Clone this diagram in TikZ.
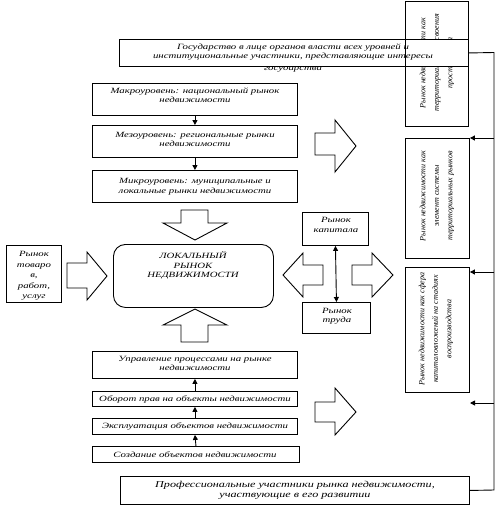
\documentclass[tikz,border=0pt]{standalone}
\usepackage{fontspec}
\setmainfont{Liberation Serif}
\newfontfamily\wf[FakeStretch=1.35]{Liberation Serif}
\usetikzlibrary{arrows.meta}
\begin{document}
\begin{tikzpicture}[x=1pt,y=-1pt,
  bx/.style={draw, line width=0.9pt, fill=white, inner sep=0pt, anchor=north west},
  tx/.style={font=\wf\itshape\fontsize{8}{9.5}\selectfont, align=center, inner sep=0pt},
  bigtx/.style={font=\wf\itshape\fontsize{9}{10}\selectfont, align=center, inner sep=0pt},
  vt/.style={font=\itshape\fontsize{8}{13.5}\selectfont, align=center, inner sep=0pt, rotate=90},
  ln/.style={line width=0.9pt},
  con/.style={line width=0.9pt, -{Triangle[length=5pt,width=5pt]}},
  dcon/.style={line width=0.9pt, {Triangle[length=5pt,width=5pt]}-{Triangle[length=5pt,width=5pt]}},
  hol/.style={draw, line width=0.9pt, fill=white, line join=miter}]
\useasboundingbox (0,0) rectangle (496,507);

% right column boxes
\node[bx, minimum width=63pt, minimum height=125pt] (v1) at (405,0.5) {};
\node[vt] at (437,63) {Рынок недвижимости как\\территориального освоения\\пространства};
\node[bx, minimum width=64pt, minimum height=120pt] (v2) at (405,138) {};
\node[vt] at (437,196) {Рынок недвижимости как\\элемент системы\\территориальных рынков};
\node[bx, minimum width=64pt, minimum height=125pt] (v3) at (405,267) {};
\node[vt] at (436,329) {Рынок недвижимости как сфера\\капиталовложений на стадиях\\воспроизводства};

% top box
\node[tx] at (293,69) {государства};
\node[bx, fill=none, minimum width=349pt, minimum height=27pt] (top) at (119,39) {};
\fill[white] (120,39.5) rectangle (404,65.5);
\fill[white] (405.5,39.5) rectangle (467.5,65.5);
\node[tx] at (293,52) {Государство в лице органов власти всех уровней и\\институциональные участники, представляющие интересы};

% bottom box
\node[bx, minimum width=349pt, minimum height=28pt] (bot) at (120,476) {};
\node[bigtx] at (295,490) {Профессиональные участники рынка недвижимости,\\участвующие в его развитии};

% frame and arrows to right boxes
\coordinate (ft) at (494,52.5);
\coordinate (fb) at (494,490);
\draw[ln] (top.east) -- (ft) -- (fb) -- (bot.east);
\coordinate (a2) at (494,138);
\coordinate (a3) at (494,272);
\coordinate (a4) at (494,403);
\coordinate (e4) at (470,403);
\draw[con] (a2) -- (a2 -| v2.east);
\draw[con] (a3) -- (a3 -| v3.east);
\draw[con] (a4) -- (e4);

% upper column
\node[bx, minimum width=205pt, minimum height=32pt] (macro) at (92,83) {};
\node[tx] at (195,95) {Макроуровень: национальный рынок\\недвижимости};
\node[bx, minimum width=205pt, minimum height=32pt] (meso) at (92,125) {};
\node[tx] at (195,139.5) {Мезоуровень: региональные рынки\\недвижимости};
\node[bx, minimum width=205pt, minimum height=32pt] (micro) at (92,170) {};
\node[tx] at (195,186.5) {Микроуровень: муниципальные и\\локальные рынки недвижимости};
\draw[con] (macro.south) -- (meso.north);
\draw[con] (meso.south) -- (micro.north);

% local market
\node[bx, rounded corners=12pt, minimum width=160pt, minimum height=63pt] (loc) at (113,244) {};
\node[tx] at (193,265.5) {ЛОКАЛЬНЫЙ\\РЫНОК\\НЕДВИЖИМОСТИ};

% goods box
\node[bx, minimum width=55pt, minimum height=57pt] (goods) at (6,245) {};
\node[tx, font=\wf\itshape\fontsize{8}{10.5}\selectfont] at (34,276) {Рынок\\товаро\\в,\\работ,\\услуг};

% capital / labour
\node[bx, minimum width=66pt, minimum height=33pt] (cap) at (302,212) {};
\node[tx] at (336,225) {Рынок\\капитала};
\node[bx, minimum width=68pt, minimum height=31pt] (lab) at (302,302) {};
\node[tx] at (337,316) {Рынок\\труда};
\draw[dcon] (cap.south) -- (lab.north);

% lower column
\node[bx, minimum width=205pt, minimum height=27pt] (upr) at (92,351) {};
\node[tx] at (195,363.5) {Управление процессами на рынке\\недвижимости};
\node[bx, minimum width=205pt, minimum height=15pt] (obor) at (92,391) {};
\node[tx] at (195,399) {Оборот прав на объекты недвижимости};
\node[bx, minimum width=205pt, minimum height=16pt] (expl) at (92,418) {};
\node[tx] at (195,426.5) {Эксплуатация объектов недвижимости};
\node[bx, minimum width=207pt, minimum height=16pt] (sozd) at (92,446) {};
\node[tx] at (195,454.5) {Создание объектов недвижимости};
\draw[con] (obor.north) -- (upr.south);
\draw[con] (expl.north) -- (obor.south);
\draw[con] (sozd.north) -- (expl.south);

% hollow arrows
\draw[hol] (181,210) -- (208,210) -- (208,223) -- (227,223) -- (195,240) -- (163,223) -- (181,223) -- cycle;
\draw[hol] (181,342) -- (208,342) -- (208,325) -- (227,325) -- (195,309) -- (163,325) -- (181,325) -- cycle;
\draw[hol] (67,263) -- (87,263) -- (87,252) -- (107,276) -- (87,300) -- (87,288) -- (67,288) -- cycle;
\draw[hol] (323,265) -- (303,265) -- (303,253) -- (283,275) -- (303,297) -- (303,285) -- (323,285) -- cycle;
\draw[hol] (352,265) -- (372,265) -- (372,253) -- (393,275) -- (372,297) -- (372,285) -- (352,285) -- cycle;
\draw[hol] (315,133) -- (335,133) -- (335,120) -- (356,146) -- (335,172) -- (335,155) -- (315,155) -- cycle;
\draw[hol] (315,402) -- (335,402) -- (335,388) -- (356,412) -- (335,435) -- (335,422) -- (315,422) -- cycle;
\end{tikzpicture}
\end{document}
